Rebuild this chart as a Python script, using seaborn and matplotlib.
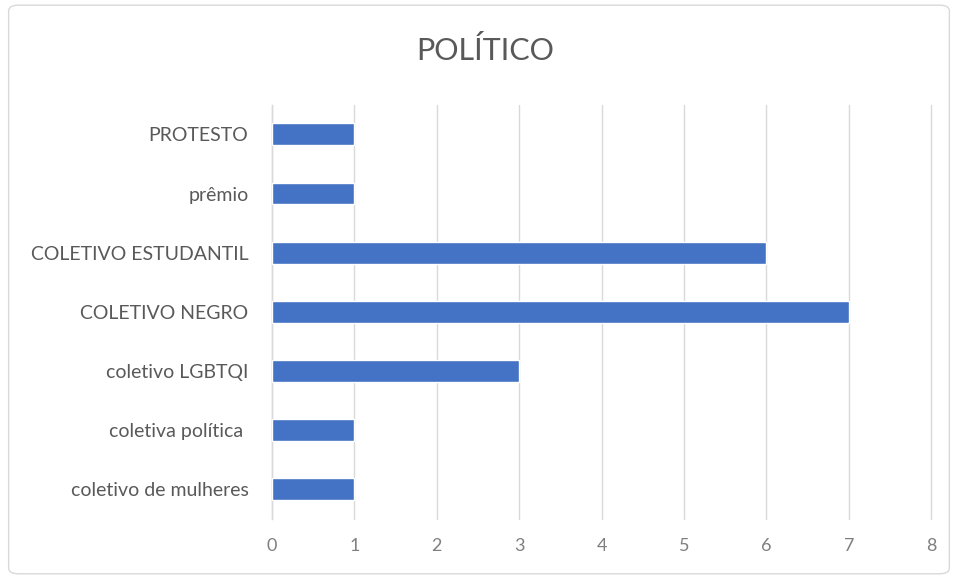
import matplotlib
matplotlib.use("Agg")
import matplotlib.pyplot as plt
from matplotlib.patches import FancyBboxPatch
import seaborn as sns
import pandas as pd

# dados do grafico (de cima para baixo)
categorias = ["PROTESTO", "prêmio", "COLETIVO ESTUDANTIL", "COLETIVO NEGRO",
              "coletivo LGBTQI", "coletiva política ", "coletivo de mulheres"]
valores = [1, 1, 6, 7, 3, 1, 1]
ticks_x = [0, 1, 2, 3, 4, 5, 6, 7, 8]

df = pd.DataFrame({"categoria": categorias, "valor": valores})

sns.set_theme(style="white")
plt.rcParams["font.family"] = ["Lato", "DejaVu Sans"]

fig = plt.figure(figsize=(9.58, 5.79), dpi=100)
ax = fig.add_axes([0.284, 0.104, 0.688, 0.715])

sns.barplot(data=df, x="valor", y="categoria", color="#4472C4",
            width=0.37, saturation=1, ax=ax, zorder=3)

ax.set_xlim(0, 8)
ax.set_ylim(6.5, -0.5)
ax.set_xticks(ticks_x)
ax.set_xlabel("")
ax.set_ylabel("")
ax.xaxis.grid(True, color="#D9D9D9", linewidth=1, zorder=0)
for gl in ax.get_xgridlines():
    gl.set_clip_on(False)
for s in ["top", "right", "bottom"]:
    ax.spines[s].set_visible(False)
ax.spines["left"].set_color("#D9D9D9")
ax.spines["left"].set_linewidth(1)
ax.tick_params(axis="x", labelsize=13, length=0, pad=14)
ax.tick_params(axis="y", labelsize=14, length=0, pad=17)
for lbl in ax.get_yticklabels():
    lbl.set_color("#595959")
for lbl in ax.get_xticklabels():
    lbl.set_color("#7F7F7F")

fig.text(0.506, 0.912, "POLÍTICO", ha="center", va="center",
         fontsize=22, color="#595959")

# moldura do grafico
frame = FancyBboxPatch((0.009, 0.009), 0.982, 0.982, boxstyle="round,pad=0,rounding_size=0.01",
                       transform=fig.transFigure, fill=False, edgecolor="#D9D9D9", linewidth=1)
fig.patches.append(frame)

fig.savefig("out.png", dpi=100)
